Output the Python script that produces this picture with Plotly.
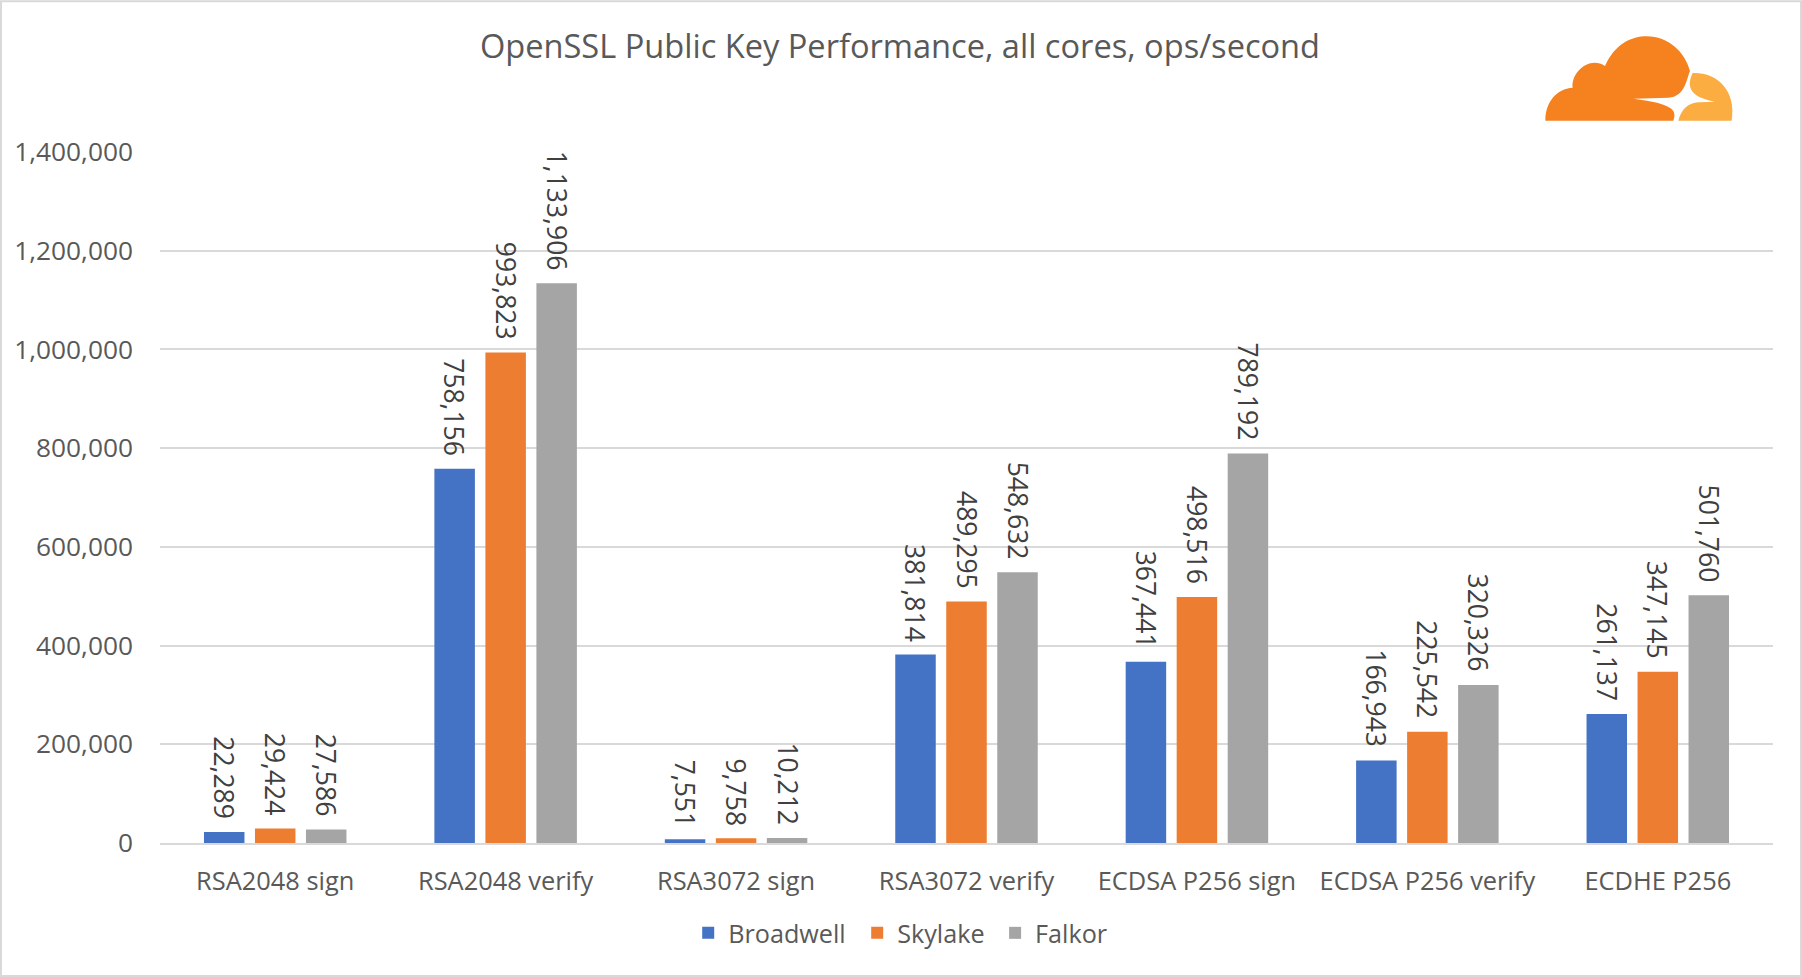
import plotly.graph_objects as go

categories = ["RSA2048 sign", "RSA2048 verify", "RSA3072 sign", "RSA3072 verify",
              "ECDSA P256 sign", "ECDSA P256 verify", "ECDHE P256"]
broadwell = [22289, 758156, 7551, 381814, 367441, 166943, 261137]
skylake = [29424, 993823, 9758, 489295, 498516, 225542, 347145]
falkor = [27586, 1133906, 10212, 548632, 789192, 320326, 501760]
y_ticks = [0, 200000, 400000, 600000, 800000, 1000000, 1200000, 1400000]
series = [("Broadwell", broadwell, "#4472C4"), ("Skylake", skylake, "#ED7D31"), ("Falkor", falkor, "#A5A5A5")]
title = "OpenSSL Public Key Performance, all cores, ops/second"

W, H = 1802, 977
L, R, T, B = 160, 1773, 150.7, 843
FONT = "Open Sans"
TXT = "#595959"
BARGAP = 0.336
STEP = (1 - BARGAP) / 3
LEGEND_PX = [688.2, 857.2, 995.1]
LEGEND_KEYS = ["legend", "legend2", "legend3"]

fig = go.Figure()
for (name, vals, col), key in zip(series, LEGEND_KEYS):
    fig.add_bar(name=name, x=categories, y=vals, marker=dict(color=col, line_width=0), legend=key)

annotations = []
for j, (name, vals, col) in enumerate(series):
    for i, v in enumerate(vals):
        annotations.append(dict(x=i + (j - 1) * STEP, y=v, xref="x", yref="y", text=f"{v:,}",
                                textangle=90, showarrow=False, yanchor="bottom", xanchor="center",
                                yshift=11, xshift=0, font=dict(family=FONT, size=26.5, color="#404040")))

px = lambda x: (x - L) / (R - L)
py = lambda y: (B - y) / (B - T)

def logo(segs):
    out = []
    for cmd, pts in segs:
        coords = " ".join(f"{px(1500 + a / 3):.5f},{py(b / 3):.5f}" for a, b in pts)
        out.append(f"{cmd}{coords}")
    return " ".join(out) + " Z"

main_cloud = [("M", [(136, 361)]), ("C", [(136, 305), (170, 265), (218, 262)]),
              ("C", [(212, 215), (270, 165), (315, 197)]),
              ("C", [(345, 130), (395, 108), (440, 108)]),
              ("C", [(505, 108), (555, 155), (570, 212)]),
              ("C", [(560, 235), (555, 290), (505, 292)]),
              ("L", [(400, 295), (290, 295), (290, 304), (400, 305), (495, 307)]),
              ("C", [(520, 310), (532, 330), (520, 361)])]
light_cloud = [("M", [(578, 218)]), ("C", [(650, 215), (710, 270), (695, 361)]),
               ("L", [(535, 361)]), ("C", [(545, 325), (565, 306), (600, 306)]),
               ("L", [(645, 304), (645, 295), (595, 294)]),
               ("C", [(565, 290), (560, 255), (578, 218)])]

shapes = [
    dict(type="rect", xref="paper", yref="paper", x0=px(1), x1=px(W - 1), y0=py(1), y1=py(H - 1),
         line=dict(color="#D9D9D9", width=2), fillcolor="rgba(0,0,0,0)", layer="below"),
    dict(type="path", xref="paper", yref="paper", path=logo(main_cloud), fillcolor="#F6821F", line_width=0),
    dict(type="path", xref="paper", yref="paper", path=logo(light_cloud), fillcolor="#FBAD41", line_width=0),
]

legend_style = dict(orientation="h", xanchor="left", y=-0.130, yanchor="middle",
                    font=dict(family=FONT, size=25.2, color=TXT), bgcolor="rgba(0,0,0,0)")

fig.update_layout(
    width=W, height=H, autosize=False,
    margin=dict(l=L, r=W - R, t=T, b=H - B, pad=0),
    paper_bgcolor="white", plot_bgcolor="white",
    barmode="group", bargap=BARGAP, bargroupgap=0.206,
    font=dict(family=FONT, size=25, color=TXT),
    title=dict(text=title, x=900 / W, xanchor="center", y=1 - 47 / H, yanchor="middle",
               font=dict(family=FONT, size=32.6, color=TXT)),
    legend=dict(x=px(LEGEND_PX[0]), **legend_style),
    legend2=dict(x=px(LEGEND_PX[1]), **legend_style),
    legend3=dict(x=px(LEGEND_PX[2]), **legend_style),
    xaxis=dict(type="category", categoryorder="array", categoryarray=categories, showgrid=False,
               showline=True, linecolor="#D9D9D9", linewidth=2, ticks="", ticklabelstandoff=15,
               tickfont=dict(family=FONT, size=25.4, color=TXT), automargin=False),
    yaxis=dict(range=[0, 1402000], tickvals=y_ticks, tickformat=",d", showgrid=True, gridcolor="#D9D9D9",
               gridwidth=2, zeroline=False, showline=False, ticks="", ticklabelstandoff=26,
               tickfont=dict(family=FONT, size=26.3, color=TXT), automargin=False),
    annotations=annotations, shapes=shapes, showlegend=True,
)
fig.write_html("out.html", post_script="document.body.style.margin='0';", config={"displayModeBar": False})
